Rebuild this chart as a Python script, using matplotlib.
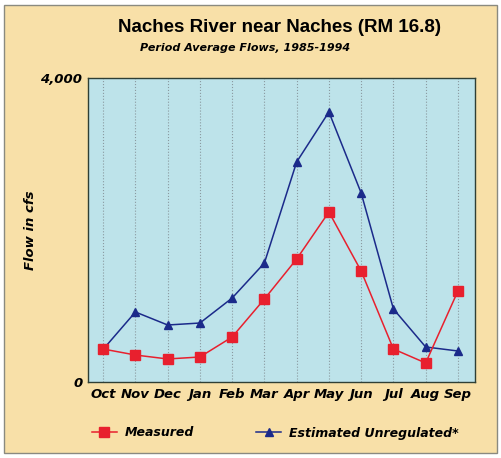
import matplotlib
matplotlib.use("Agg")
import matplotlib.pyplot as plt
from matplotlib.patches import Rectangle

months = ["Oct", "Nov", "Dec", "Jan", "Feb", "Mar", "Apr", "May", "Jun", "Jul", "Aug", "Sep"]
measured = [434, 355, 303, 329, 592, 1092, 1618, 2237, 1460, 434, 250, 1197]
unregulated = [430, 921, 750, 776, 1105, 1566, 2895, 3553, 2487, 961, 461, 408]
yticks = [0, 4000]
ytick_labels = ["0", "4,000"]

narrow = ["DejaVu Sans"]
nkw = dict(fontfamily=narrow, fontstyle="italic", fontweight="bold")
bg = "#F8E0A8"
axbg = "#BDE3EA"

fig = plt.figure(figsize=(5.01, 4.58), dpi=100)
fig.patch.set_facecolor("white")
fig.patches.append(Rectangle((4/501, 1-453/458), 493/501, 448/458, transform=fig.transFigure,
                             facecolor=bg, edgecolor="#8a8a80", linewidth=1.0, zorder=-5))

ax = fig.add_axes([88/501, 1-382/458, 387/501, 304/458])
ax.set_zorder(2)
ax.set_facecolor(axbg)
x = list(range(len(months)))
ax.plot(x, unregulated, color="#1B2A8A", marker="^", markersize=6, linewidth=1.1,
        label="Estimated Unregulated*", zorder=3)
ax.plot(x, measured, color="#E8202E", marker="s", markersize=7, linewidth=1.1,
        label="Measured", zorder=4)

ax.set_xlim(-0.47, 11.53)
ax.set_ylim(0, 4000)
ax.set_xticks(x)
ax.set_xticklabels(months, fontsize=9.5, **nkw)
ax.set_yticks(yticks)
ax.set_yticklabels(ytick_labels, fontsize=9.5, **nkw)
ax.tick_params(axis="both", length=0, pad=4)
ax.grid(axis="x", color="#8a9aa0", linestyle=":", linewidth=0.8)
for s in ax.spines.values():
    s.set_color("#2f3f35")
    s.set_linewidth(1.0)

fig.text(30/501, 1-230/458, "Flow in cfs", rotation=90, ha="center", va="center",
         fontsize=9.5, **nkw)

fig.text(279/501, 1-27/458, "Naches River near Naches (RM 16.8)", ha="center", va="center",
         fontfamily=["Liberation Sans", "DejaVu Sans"], fontweight="bold", fontsize=13.5)
fig.text(245/501, 1-48/458, "Period Average Flows, 1985-1994", ha="center", va="center",
         fontsize=8, **nkw)

handles, labels = ax.get_legend_handles_labels()
leg = fig.legend(handles[::-1], labels[::-1], loc="center", bbox_to_anchor=(275/501, 1-433/458),
                 ncol=2, frameon=False, columnspacing=5, handlelength=2, handletextpad=0.6,
                 prop={"family": narrow, "style": "italic", "weight": "bold", "size": 9})

fig.savefig("out.png", dpi=100, facecolor=fig.get_facecolor())
